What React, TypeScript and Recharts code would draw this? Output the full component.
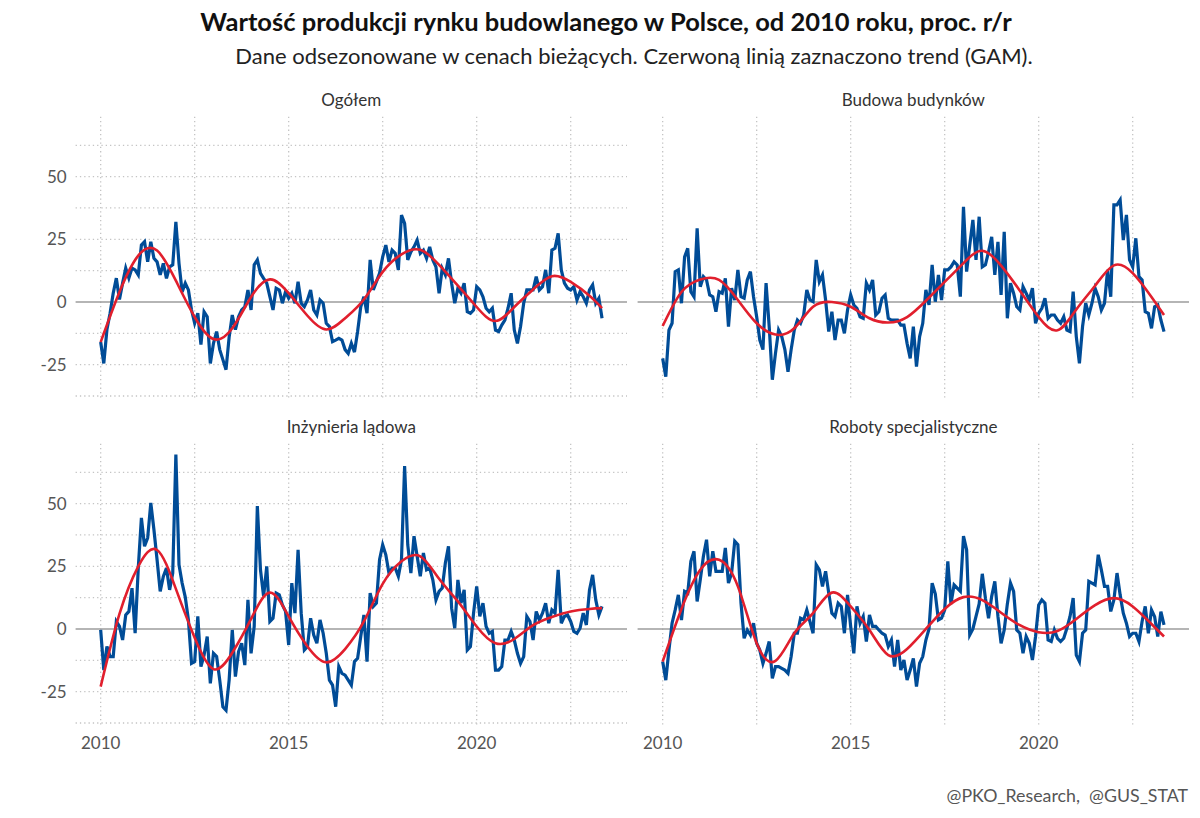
import React from 'react';
import { LineChart, Line, XAxis, YAxis, CartesianGrid, ReferenceLine } from 'recharts';

// ---- data (monthly, Jan 2010 .. May 2023), % y/y ----
const START_YEAR = 2010;

const ogolem = [
  -16, -24.5, -11, -4.5, 3.5, 9.5, 1, 7.5, 13.5, 9.5,
  13.5, 12.8, 10.8, 22.7, 24, 16, 24, 17.4, 16, 10.8,
  15.4, 9.4, 14, 14.8, 32, 15.4, 4, 7.5, 4.8, -3.2,
  -8.5, -4.5, -17, -3.9, -5.9, -24.5, -16.5, -11.8, -19, -23,
  -27, -14, -5.2, -11, -5.9, -3.2, -1.9, 4.8, -3.2, 14.8,
  16.8, 11.4, 9.4, 7.5, 2.1, -3.2, 5.5, 4.8, -0.5, 4.1,
  1.5, 3.5, -0.5, 8.1, -0.5, -1.9, 0.8, 4.8, -3.2, -5.2,
  0.8, -0.5, -8.5, -9.8, -15.8, -15.2, -14.5, -15.2, -19, -20.5,
  -16.5, -20, -11.8, -1.9, 2.1, -4.5, 16.8, 4.8, 8.1, 11.4,
  18, 22.7, 16, 20.7, 19.4, 12.8, 34.7, 31.4, 16.8, 20,
  22, 24.7, 19.4, 20.7, 17.4, 22, 16.8, 14, 3.5, 13.4,
  10.8, 17.4, 7.5, -0.5, 5.5, 3.5, 7.5, -3.9, -4.5, -3.2,
  6.1, 4.8, 2.1, -2.5, -3.9, -2.5, -11.2, -11.8, -9.2, -7.2,
  -2.5, 3.5, -11.2, -16.5, -9.8, -0.5, 4.8, 4.8, 4.8, 10.1,
  4.8, 6.1, 12.8, 3.5, 20.7, 21.4, 27.4, 12.8, 7.5, 5.5,
  4.8, 6.1, 0.8, 4.1, 2.1, -0.5, 4.8, 6.8, -0.5, 1.5,
  -6.5,
];

const budynki = [
  -22.5, -29.8, -11.2, -8.5, 12.1, 12.8, -0.5, 18, 21.4, 4.1,
  2.1, 29.4, 6.1, 10.1, 8.8, 2.8, 2.1, -3.9, 4.1, 3.5,
  9.4, -9.8, 5.5, 0.8, 12.8, 2.1, 1.5, 8.8, 12.1, 2.1,
  -5.9, -15.2, -19, 7.5, -9.8, -31, -20.5, -11.2, -13.8, -19,
  -27.8, -19, -11.2, -7.2, -8.5, -5.2, 4.8, 0.8, 0.1, 16.8,
  8.1, 10.8, 0.8, -11.8, -3.9, -15.2, -7.2, -7.2, -12.5, -3.2,
  2.8, -1.2, -2.5, -5.9, -6.5, 7.5, 4.8, 8.8, -5.2, -3.9,
  1.5, 2.8, -6.5, -7.2, -7.2, -7.2, -9.2, -9.2, -16.5, -22.5,
  -9.8, -25.8, -13.8, -8.5, 4.8, -1.2, 14.8, 0.1, 10.8, 0.8,
  12.8, 12.8, 14, 16, 14.8, 2.1, 38, 12.1, 22.7, 32.7,
  16.8, 34, 14, 14.8, 20, 26, 10.8, 24, 2.8, 28,
  -6.5, 7.5, 3.5, -1.9, -3.2, 6.1, 3.5, 0.8, 5.5, -8.5,
  -4.5, -2.5, 1.5, -6.5, -5.2, -5.2, -7.2, -8.5, -5.9, -11.2,
  -11.8, 4.1, -13.8, -24.5, -9.8, -0.5, -5.2, -0.5, 5.5, 2.1,
  -3.2, -0.5, 12.8, 2.1, 38.7, 38.7, 40.7, 24.7, 34.7, 16.8,
  14, 25.4, 10.1, 8.8, -3.9, -4.5, -10.5, -1.9, -1.2, -7.2,
  -11.8,
];

const inzynieria = [
  -0.4, -16.4, -7, -11, -11, 3, 1, -4.4, 5.6, 7,
  16.3, -1.7, 24.3, 44.3, 33, 36.3, 50.3, 39.6, 27.6, 15,
  21, 24.3, 15.6, 22.3, 69.6, 25.6, 18.3, 12.7, 3.6, -13.7,
  -13, 5, -15, -10.4, -3, -21.7, -9.7, -11, -20.4, -31,
  -32.4, -20.4, -0.4, -19, -9, -5.7, -14.4, 11.6, -9.7, 1,
  49, 23.6, 13, 25, 3, 4.3, 14.3, 13.6, 9.6, 7,
  -6.4, 18.3, 6.3, 31.6, 6.3, -8.4, -7, 4.3, -2.4, -5.7,
  3.6, -1.7, -9.7, -20.4, -22.4, -31, -15, -17.7, -18.4, -20.4,
  -22.4, -13, -11.7, -3, 5.6, -13, 14.3, 9, 10.3, 27.6,
  33.6, 29.6, 22.3, 24.3, 24.3, 21, 27.6, 65, 33.6, 22.3,
  37, 29, 21, 30.3, 23.6, 24.3, 19.6, 11.6, 15, 16.3,
  26.3, 33, 8.3, 0.3, 19.6, 10.3, 15.6, -8.4, -7, 6.3,
  17, 5, 10.3, 1, -1.7, -1, -16.4, -16.4, -15, -4.4,
  -4.4, -1, -4.4, -9.7, -13.7, -11, 5, 3, -4.4, 7,
  3.6, 6.3, 10.3, 2.3, 7.6, 6.3, 23.6, 2.3, 5, 5.6,
  3, -1, -1.7, 0.3, 6.3, 1.6, 15.6, 21.6, 11.6, 5.6,
  9,
];

const roboty = [
  -13, -20.4, -8.4, 2.3, 7.6, 13.6, 3.6, 15, 14.3, 27,
  31, 11, 19.6, 29, 35.6, 21, 31, 23, 23, 23,
  32.3, 18.3, 22.3, 35, 33.6, 10.3, -3.7, -0.4, -2.4, 2.3,
  -5.7, -8.4, -13.7, -9.7, -5, -19.7, -15, -15, -15.7, -16.4,
  -17.7, -11, -1.7, -1.7, 4.3, 3.6, 7.6, 3, -1.7, 25.6,
  23.6, 17, 23, 14.3, 6.3, 5, 10.3, 9, -1.7, 13.6,
  1, -9.7, 9, 2.3, 5, -5, 5.6, 1, 1, -0.4,
  -1.7, -2.4, -7, -4.4, -15, -4.4, -16.4, -12.4, -20.4, -16.4,
  -11.7, -23, -13.7, -11, -4.4, 0, 18.3, 14, 3.6, 4.3,
  7.6, 27, 10, 17.6, 16.3, 15, 37, 31.6, -2.4, 0,
  5, 10, 22, 12.3, 4.3, 13, 19, 5, -5.7, -0.4,
  10, 18.3, 15, -0.4, -1.7, -9.7, -3, -5.7, -12.4, -3,
  9.6, 11.6, 10.3, -4.4, -5, -0.4, -3.7, -5, -3.7, 0.3,
  5, 12.3, -10.4, -13, -1.7, -0.4, 19, 18.3, 17.6, 29.6,
  23.6, 17, 17, 7, 11.6, 22.3, 13.6, 6.3, 2.3, -3,
  -1.7, -1.7, -5, 3, 9, -1.7, 7.6, 4.9, -3, 6.9,
  1.6,
];

// GAM trend read at these month indices (months since Jan 2010)
const trendMonths = [0, 6, 12, 18, 24, 30, 36, 42, 48, 54, 60, 66, 72, 78, 84, 90, 96, 102, 108, 114, 120, 126, 132, 138, 144, 150, 156, 160];
const ogolemTrend = [-16, 4, 18.5, 20.5, 8.5, -6, -14.8, -10.5, 2, 9, 3.5, -5.5, -11, -6.5, 1, 12, 19, 20.8, 14.8, 6.5, -2, -7.6, -2, 5, 10.3, 8, 2.5, -2.5];
const budynkiTrend = [-9.6, 4, 9, 8.8, 0.8, -8.5, -13, -10.5, -1.9, 0, -1.9, -6.5, -8.2, -6, 0.5, 8, 15.5, 20.4, 14.5, 4.5, -6, -11.3, -3, 6.5, 14.6, 11.5, 2, -5.2];
const inzynieriaTrend = [-23, 6, 25, 31.5, 16, -3.5, -16, -9.5, 4, 14.5, 5, -7, -13.3, -8, 3, 18, 27, 29, 20, 11, 1, -5.7, -4, 1.5, 4.8, 7, 8, 8.3];
const robotyTrend = [-13, 8, 23.6, 27.6, 17, -5.7, -12.7, -1.7, 6.3, 14.5, 9, -0.4, -10.4, -8, 0, 8, 12.7, 11.5, 6.5, 1.5, -1.3, -0.8, 4, 9.5, 12.3, 9, 2, -3];

const panelTitles = ['Ogółem', 'Budowa budynków', 'Inżynieria lądowa', 'Roboty specjalistyczne'];
const xTicks = [2010, 2015, 2020];
const xGrid = [2010, 2012.5, 2015, 2017.5, 2020, 2022.5];
const yTicks = [-25, 0, 25, 50];
const yGrid = [-37.5, -25, -12.5, 12.5, 25, 37.5, 50, 62.5];

const TITLE = 'Wartość produkcji rynku budowlanego w Polsce, od 2010 roku, proc. r/r';
const SUBTITLE = 'Dane odsezonowane w cenach bieżących. Czerwoną linią zaznaczono trend (GAM).';
const CAPTION = '@PKO_Research,  @GUS_STAT';

// ---- layout ----
const FONT = 'Lato, "Open Sans", sans-serif';
const X_DOMAIN: [number, number] = [2009 + 4 / 12, 2024];
const Y_DOMAIN: [number, number] = [-38.1, 74.1];
const AX_W = 75.6;
const AX_H = 34;
const PLOT_W = 551.5;
const PLOT_H = 281.3;
const M_TOP = 6.2;
const CHART_W = AX_W + PLOT_W;
const CHART_H = M_TOP + PLOT_H + AX_H;

const gridLine = { stroke: '#c4c4c4', strokeWidth: 1.3, strokeDasharray: '1.3 3' };

function buildRows(values: number[], trend: number[]) {
  const rows = values.map((v, i) => ({ t: START_YEAR + i / 12, v, trend: null as number | null }));
  trendMonths.forEach((m, k) => {
    rows[m].trend = trend[k];
  });
  return rows;
}

function Panel({ title, rows, left, top, showX, showY }: any) {
  const tickStyle = { fill: '#555', fontSize: 17, fontFamily: FONT };
  return (
    <>
      <div
        style={{
          position: 'absolute',
          left: left + AX_W,
          width: PLOT_W,
          top: top - 26,
          textAlign: 'center',
          fontSize: 17,
          lineHeight: '20px',
          color: '#333',
        }}
      >
        {title}
      </div>
      <div style={{ position: 'absolute', left, top: top - M_TOP }}>
        <LineChart width={CHART_W} height={CHART_H} data={rows} margin={{ top: M_TOP, right: 0, bottom: 0, left: 0 }}>
          <CartesianGrid {...gridLine} horizontalValues={yGrid} vertical={false} />
          {xGrid.map((g) => (
            <ReferenceLine key={g} x={g} {...gridLine} zIndex={-60} />
          ))}
          <XAxis
            type="number"
            dataKey="t"
            domain={X_DOMAIN}
            ticks={xTicks}
            allowDataOverflow
            axisLine={false}
            tickLine={false}
            height={AX_H}
            tickMargin={6}
            tick={showX ? tickStyle : false}
          />
          <YAxis
            type="number"
            domain={Y_DOMAIN}
            ticks={yTicks}
            allowDataOverflow
            axisLine={false}
            tickLine={false}
            width={AX_W}
            tickMargin={3}
            tick={showY ? tickStyle : false}
          />
          <ReferenceLine y={0} stroke="#9c9c9c" strokeWidth={1.6} zIndex={-50} />
          <Line
            dataKey="v"
            type="linear"
            stroke="#004c97"
            strokeWidth={3.2}
            dot={false}
            isAnimationActive={false}
          />
          <Line
            dataKey="trend"
            type="natural"
            stroke="#e11f2d"
            strokeWidth={2.6}
            dot={false}
            connectNulls
            isAnimationActive={false}
          />
        </LineChart>
      </div>
    </>
  );
}

export default function App() {
  const panels = [
    { rows: buildRows(ogolem, ogolemTrend), left: 0, top: 116.2, showX: false, showY: true },
    { rows: buildRows(budynki, budynkiTrend), left: 562, top: 116.2, showX: false, showY: false },
    { rows: buildRows(inzynieria, inzynieriaTrend), left: 0, top: 443.2, showX: true, showY: true },
    { rows: buildRows(roboty, robotyTrend), left: 562, top: 443.2, showX: true, showY: false },
  ];
  return (
    <div
      style={{
        position: 'absolute',
        left: 0,
        top: 0,
        width: 1200,
        height: 818,
        background: '#fff',
        fontFamily: FONT,
        overflow: 'hidden',
      }}
    >
      <div
        style={{
          position: 'absolute',
          left: 0,
          width: 1212,
          top: 6,
          textAlign: 'center',
          fontSize: 25.5,
          fontWeight: 700,
          lineHeight: '31px',
          color: '#111',
        }}
      >
        {TITLE}
      </div>
      <div
        style={{
          position: 'absolute',
          left: 0,
          width: 1268,
          top: 43,
          textAlign: 'center',
          fontSize: 22,
          lineHeight: '26px',
          color: '#222',
        }}
      >
        {SUBTITLE}
      </div>
      {panels.map((p, k) => (
        <Panel key={k} title={panelTitles[k]} {...p} />
      ))}
      <div
        style={{
          position: 'absolute',
          right: 12,
          top: 784,
          fontSize: 17.8,
          lineHeight: '23px',
          color: '#555',
          whiteSpace: 'pre',
        }}
      >
        {CAPTION}
      </div>
    </div>
  );
}
